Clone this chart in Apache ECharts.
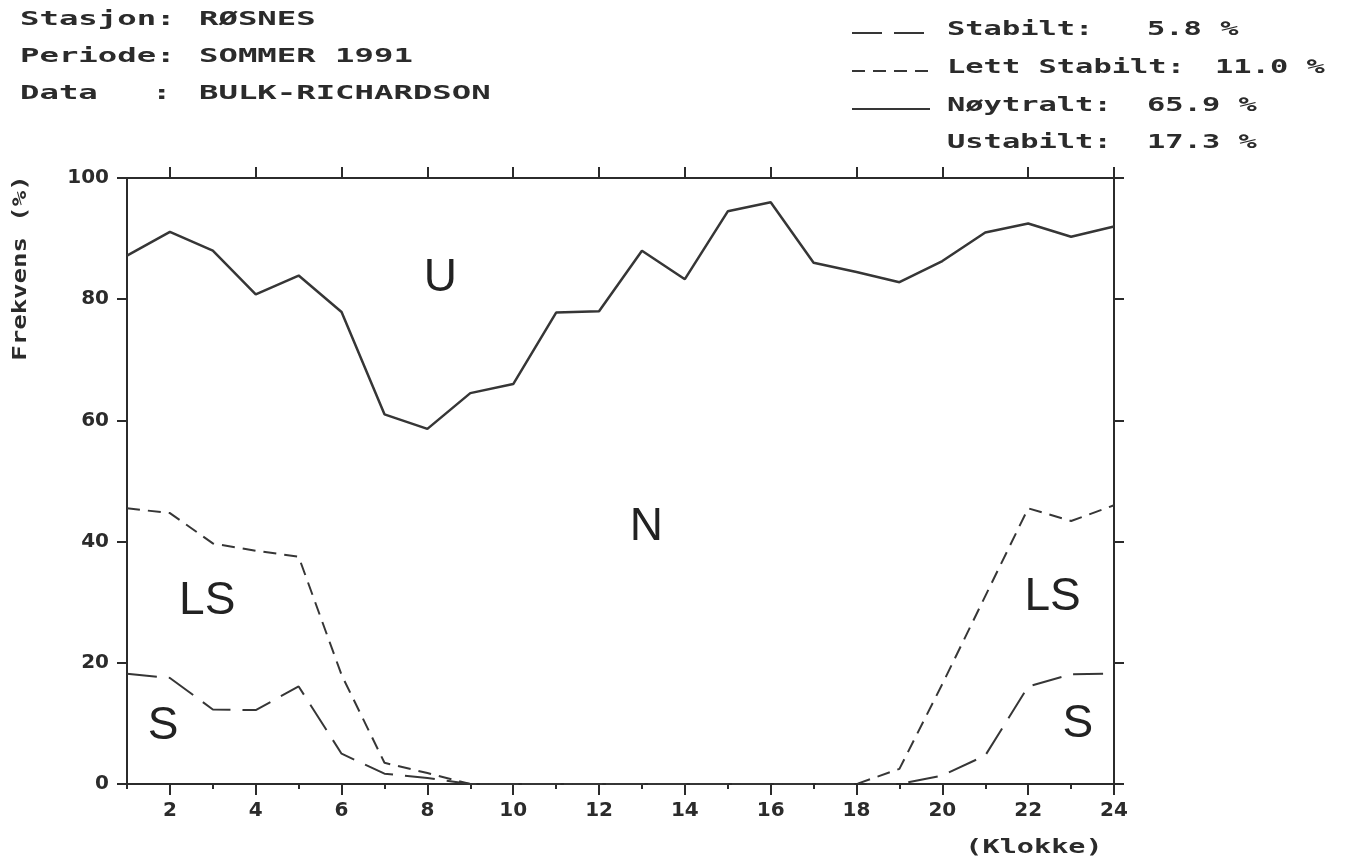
<!DOCTYPE html>
<html>
<head>
<meta charset="utf-8">
<script src="https://cdn.jsdelivr.net/npm/echarts@6/dist/echarts.min.js"></script>
<style>
  html, body { margin: 0; padding: 0; background: #fff; }
  #chart { width: 1361px; height: 860px; }
</style>
</head>
<body>
<div id="chart"></div>
<script>
  // hours of the day (Klokke)
  const hours = [1, 2, 3, 4, 5, 6, 7, 8, 9, 10, 11, 12, 13, 14, 15, 16, 17, 18, 19, 20, 21, 22, 23, 24];
  const evenHours = [2, 4, 6, 8, 10, 12, 14, 16, 18, 20, 22, 24];

  // cumulative frequency (%) - upper border of each class
  // S = stabilt, LS = stabilt + lett stabilt, N = stabilt + lett stabilt + noytralt
  const stabilt = [18.2, 17.5, 12.3, 12.2, 16.1, 5.0, 1.7, 1.0, 0, 0, 0, 0,
                   0, 0, 0, 0, 0, 0, 0, 1.4, 4.7, 16.1, 18.1, 18.2];
  const lettStabilt = [45.5, 44.7, 39.7, 38.5, 37.5, 18.0, 3.5, 1.8, 0, 0, 0, 0,
                       0, 0, 0, 0, 0, 0, 2.5, 16.5, 31.0, 45.5, 43.4, 46.0];
  const noytralt = [87.2, 91.1, 88.0, 80.8, 83.9, 77.9, 61.0, 58.6, 64.5, 66.0, 77.8, 78.0,
                    88.0, 83.3, 94.5, 96.0, 86.0, 84.5, 82.8, 86.3, 91.0, 92.5, 90.3, 92.0];

  // area letters inside the plot
  const regionText = ['U', 'N', 'LS', 'S', 'LS', 'S'];
  const regionHour = [8.3, 13.1, 2.87, 1.84, 22.57, 23.16];
  const regionLevel = [83.4, 42.3, 30.2, 9.5, 30.8, 9.9];

  // legend text
  const legendNames = ['Stabilt:', 'Lett Stabilt:', 'Nøytralt:', 'Ustabilt:'];
  const legendShares = ['5.8 %', '11.0 %', '65.9 %', '17.3 %'];

  const headLabels = ['Stasjon:', 'Periode:', 'Data'];
  const headValues = ['RØSNES', 'SOMMER 1991', 'BULK-RICHARDSON'];

  const ink = '#2b2b2b';
  const lineInk = '#363636';
  const plotFont = 'DejaVu Sans Mono';

  function pairs(vals) {
    return hours.map(function (h, i) { return [h, vals[i]]; });
  }

  // stretched "plotter" text
  function ptext(str, x, y, opts) {
    opts = opts || {};
    return {
      type: 'text',
      x: x,
      y: y,
      rotation: opts.rotation || 0,
      scaleX: opts.scaleX || 1.7,
      style: {
        text: str,
        font: 'bold ' + (opts.size || 19) + 'px "' + plotFont + '"',
        fill: ink,
        textAlign: opts.align || 'left',
        textVerticalAlign: 'middle',
        align: opts.align || 'left',
        verticalAlign: 'middle'
      },
      silent: true
    };
  }

  const graphics = [];
  const headRows = [20, 57, 94];
  headLabels.forEach(function (t, i) {
    graphics.push(ptext(t, 20, headRows[i]));
    graphics.push(ptext(headValues[i], 199, headRows[i]));
  });
  graphics.push(ptext(':', 152, headRows[2]));

  const legRows = [30, 68, 106, 143];
  const shareX = [1147, 1215, 1147, 1147];
  legendNames.forEach(function (t, i) {
    graphics.push(ptext(t, 947, legRows[i], { scaleX: 1.6 }));
    graphics.push(ptext(legendShares[i], shareX[i], legRows[i], { scaleX: 1.6 }));
  });
  const sampleDash = [[30, 12], [13, 8], null];
  sampleDash.forEach(function (d, i) {
    graphics.push({
      type: 'line',
      shape: { x1: 852, y1: legRows[i] + 3, x2: 930, y2: legRows[i] + 3 },
      style: { stroke: lineInk, lineWidth: 2, lineDash: d },
      silent: true
    });
  });

  graphics.push(ptext('Frekvens (%)', 21, 268, { rotation: Math.PI / 2, scaleX: 1.35, align: 'center' }));
  graphics.push(ptext('(Klokke)', 1034, 848, { scaleX: 1.5, align: 'center' }));

  const axisLine = { show: true, onZero: false, lineStyle: { color: ink, width: 2 } };
  const tickStyle = { color: ink, width: 2 };
  const tickFont = { fontSize: 20, fontWeight: 'bold', color: ink, fontFamily: 'DejaVu Sans' };

  const chart = echarts.init(document.getElementById('chart'));
  chart.setOption({
    animation: false,
    backgroundColor: '#ffffff',
    textStyle: { fontFamily: 'DejaVu Sans' },
    grid: { left: 127, right: 247, top: 178, bottom: 76, containLabel: false, outerBoundsMode: 'none' },
    xAxis: [
      {
        type: 'value', position: 'bottom', min: 1, max: 24, interval: 1,
        axisLine: axisLine,
        axisTick: { show: true, length: 5, lineStyle: tickStyle },
        axisLabel: Object.assign({
          margin: 17,
          formatter: function (v) { return v % 2 === 0 ? String(v) : ''; }
        }, tickFont),
        splitLine: { show: false }
      },
      {
        type: 'value', position: 'bottom', min: 1, max: 24, interval: 1,
        axisLine: { show: false, onZero: false },
        axisTick: { show: true, length: 11, customValues: evenHours, lineStyle: tickStyle },
        axisLabel: { show: false },
        splitLine: { show: false }
      },
      {
        type: 'value', position: 'top', min: 1, max: 24, interval: 1,
        axisLine: axisLine,
        axisTick: { show: true, length: 11, customValues: evenHours, lineStyle: tickStyle },
        axisLabel: { show: false },
        splitLine: { show: false }
      }
    ],
    yAxis: [
      {
        type: 'value', position: 'left', min: 0, max: 100, interval: 20,
        axisLine: axisLine,
        axisTick: { show: true, length: 10, lineStyle: tickStyle },
        axisLabel: Object.assign({ margin: 18 }, tickFont),
        splitLine: { show: false }
      },
      {
        type: 'value', position: 'right', min: 0, max: 100, interval: 20,
        axisLine: axisLine,
        axisTick: { show: true, length: 10, lineStyle: tickStyle },
        axisLabel: { show: false },
        splitLine: { show: false }
      }
    ],
    series: [
      {
        name: 'Nøytralt', type: 'line', data: pairs(noytralt), symbol: 'none',
        lineStyle: { color: lineInk, width: 2.5 }
      },
      {
        name: 'Lett Stabilt', type: 'line', data: pairs(lettStabilt), symbol: 'none',
        lineStyle: { color: lineInk, width: 2, type: [13, 8] }
      },
      {
        name: 'Stabilt', type: 'line', data: pairs(stabilt), symbol: 'none',
        lineStyle: { color: lineInk, width: 2, type: [30, 12] }
      },
      {
        name: 'areas', type: 'scatter', symbolSize: 0, silent: true,
        itemStyle: { opacity: 1, color: ink },
        data: regionHour.map(function (h, i) { return [h, regionLevel[i], regionText[i]]; }),
        label: {
          show: true, position: 'inside', color: '#222222', opacity: 1,
          fontFamily: 'Liberation Sans', fontSize: 46,
          formatter: function (p) { return p.data[2]; }
        }
      }
    ],
    graphic: graphics
  });
</script>
</body>
</html>
